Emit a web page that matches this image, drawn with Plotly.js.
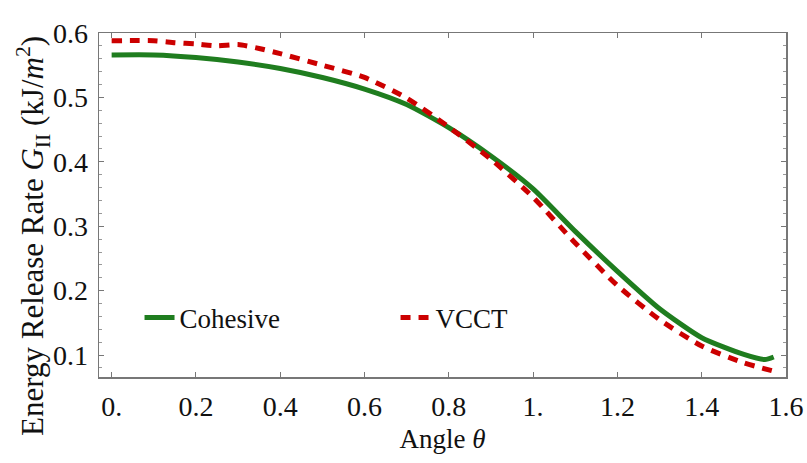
<!DOCTYPE html>
<html>
<head>
<meta charset="utf-8">
<script src="https://cdn.plot.ly/plotly-3.0.1.min.js"></script>
<style>html,body{margin:0;padding:0;background:#fff;}#chart{width:807px;height:463px;}</style>
</head>
<body>
<div id="chart"></div>
<script>
// Cohesive series (green solid)
var cohesiveX = [0, 0.1, 0.2, 0.3, 0.4, 0.5, 0.6, 0.7, 0.8, 0.9, 1.0, 1.1, 1.2, 1.3, 1.4, 1.5, 1.55, 1.5708];
var cohesiveY = [0.566, 0.566, 0.562, 0.555, 0.545, 0.531, 0.513, 0.489, 0.453, 0.409, 0.358, 0.292, 0.230, 0.172, 0.127, 0.101, 0.093, 0.097];
// VCCT series (red dashed)
var vcctX = [0, 0.1, 0.15, 0.2, 0.25, 0.3, 0.35, 0.4, 0.5, 0.6, 0.7, 0.8, 0.9, 1.0, 1.1, 1.2, 1.3, 1.4, 1.5, 1.5708];
var vcctY = [0.588, 0.588, 0.585, 0.583, 0.580, 0.582, 0.576, 0.568, 0.550, 0.531, 0.499, 0.454, 0.404, 0.345, 0.274, 0.208, 0.155, 0.114, 0.088, 0.075];
// Tick labels
var xTickVals = [0, 0.2, 0.4, 0.6, 0.8, 1.0, 1.2, 1.4, 1.6];
var xTickText = ['0.', '0.2', '0.4', '0.6', '0.8', '1.', '1.2', '1.4', '1.6'];
var yTickVals = [0.1, 0.2, 0.3, 0.4, 0.5, 0.6];
var yTickText = ['0.1', '0.2', '0.3', '0.4', '0.5', '0.6'];

var serif = 'Times New Roman';
var traces = [
  {x: cohesiveX, y: cohesiveY, mode: 'lines', name: 'Cohesive', line: {color: '#1f7d1f', width: 5, shape: 'spline', smoothing: 0.6}},
  {x: vcctX, y: vcctY, mode: 'lines', name: 'VCCT', line: {color: '#cc0000', width: 5, dash: '10px,8px', shape: 'spline', smoothing: 0.6}}
];
var axisCommon = {
  showgrid: false, zeroline: false, showline: true, linecolor: '#777', linewidth: 1.5,
  mirror: 'ticks', ticks: 'inside', ticklen: 5, tickcolor: '#777',
  tickfont: {family: serif, size: 28, color: '#111'}
};
var layout = {
  width: 807, height: 463,
  margin: {l: 99, r: 21, t: 33, b: 86},
  paper_bgcolor: '#fff', plot_bgcolor: '#fff',
  font: {family: serif, color: '#111'},
  showlegend: true,
  legend: {orientation: 'h', x: 0.059, y: 0.172, xanchor: 'left', yanchor: 'middle',
           font: {family: serif, size: 27, color: '#111'}, bgcolor: 'rgba(0,0,0,0)',
           entrywidth: 211, traceorder: 'normal'},
  xaxis: Object.assign({}, axisCommon, {
    range: [-0.03, 1.6], tickmode: 'array', tickvals: xTickVals, ticktext: xTickText,
    ticklabelstandoff: 4,
    title: {text: 'Angle <i>θ</i>', font: {family: serif, size: 27, color: '#111'}, standoff: 8}
  }),
  yaxis: Object.assign({}, axisCommon, {
    range: [0.066, 0.6], tickmode: 'array', tickvals: yTickVals, ticktext: yTickText,
    ticklabelstandoff: 4,
    minor: {ticks: 'inside', ticklen: 3, dtick: 0.02, tick0: 0, tickcolor: '#999'}
  }),
  annotations: [{
    xref: 'paper', yref: 'paper', x: -0.096, y: 0.41, xanchor: 'center', yanchor: 'middle',
    textangle: -90, showarrow: false,
    text: 'Energy Release Rate <i>G</i><sub>II</sub> (kJ/<i>m</i><sup>2</sup>)',
    font: {family: serif, size: 31, color: '#111'}
  }]
};
Plotly.newPlot('chart', traces, layout, {displayModeBar: false, staticPlot: true});
</script>
</body>
</html>
